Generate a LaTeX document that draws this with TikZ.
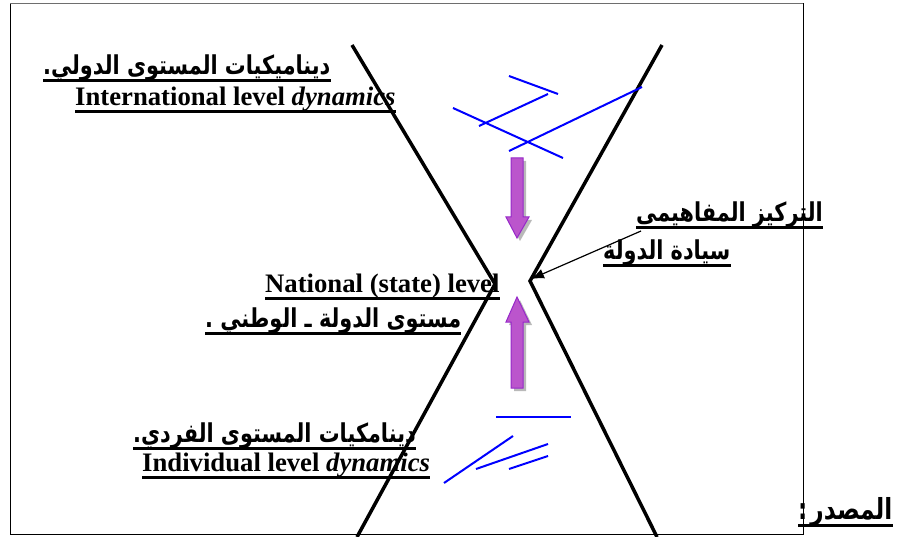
\documentclass[tikz,border=0pt]{standalone}
\usepackage{fontspec}
\setmainfont{Liberation Serif}
\newfontfamily\arabicfont[Script=Arabic, FakeStretch=0.8]{DejaVu Sans}
\TeXXeTstate=1
\usetikzlibrary{arrows.meta}

\definecolor{arrowfill}{RGB}{187,85,204}
\definecolor{arrowedge}{RGB}{150,40,200}
\definecolor{framegray}{RGB}{110,110,110}

\begin{document}
\begin{tikzpicture}[x=1pt,y=-1pt,
      Funnel/.style={line width=3.5pt},
      Scribble/.style={blue, line width=2pt},
      EnLabel/.style={inner sep=0pt, anchor=base west,
        font=\bfseries\fontsize{26.7}{28}\selectfont},
      ArLabel/.style={inner sep=0pt, anchor=base west,
        font=\arabicfont\bfseries\fontsize{26}{28}\selectfont},
      Uline/.style={line width=3pt},
      Thick/.style={fill=arrowfill, draw=arrowedge, line width=1pt},
      Shade/.style={fill=gray!55},
      ]
      \useasboundingbox (0,0) rectangle (909,537);
      \draw[line width=1pt] (10,534) -- (10,4) -- (803,4) -- (803,534) -- cycle;
      \draw[framegray, line width=1pt] (10,4) -- (803,4);

      % the two funnels
      \draw[Funnel] (352,45) -- (495,284) -- (357,537);
      \draw[Funnel] (662,45) -- (530,281) -- (657,537);

      % scribbles
      \draw[Scribble] (509,76) -- (558,94);
      \draw[Scribble] (548,94) -- (479,126);
      \draw[Scribble] (453,108) -- (563,158);
      \draw[Scribble] (509,151) -- (642,87);
      \draw[Scribble] (496,417) -- (571,417);
      \draw[Scribble] (513,436) -- (444,483);
      \draw[Scribble] (476,469) -- (548,444);
      \draw[Scribble] (509,469) -- (548,456);

      % thick arrows
      \fill[Shade] (514,161) -- (526,161) -- (526,220) -- (532,220) -- (520,241) -- (509,220) -- (514,220) -- cycle;
      \draw[Thick] (511,158) -- (523,158) -- (523,217) -- (529,217) -- (517,238) -- (506,217) -- (511,217) -- cycle;
      \fill[Shade] (520,300) -- (532,325) -- (526,325) -- (526,391) -- (514,391) -- (514,325) -- (509,325) -- cycle;
      \draw[Thick] (517,297) -- (529,322) -- (523,322) -- (523,388) -- (511,388) -- (511,322) -- (506,322) -- cycle;

      % labels
      \node[ArLabel] (intAr) at (43,75) {\beginR ديناميكيات المستوى الدولي.\endR};
      \node[EnLabel] (intEn) at (75,106) {International level \textit{dynamics}};
      \node[ArLabel] (focus) at (636,222) {\beginR التركيز المفاهيمى\endR};
      \node[ArLabel] (sovereign) at (603,259) {\beginR سيادة الدولة\endR};
      \node[EnLabel] (natEn) at (265,292) {National (state) level};
      \node[ArLabel] (natAr) at (205,327) {\beginR مستوى الدولة ـ الوطني .\endR};
      \node[ArLabel] (indAr) at (133,442) {\beginR دينامكيات المستوى الفردي.\endR};
      \node[EnLabel] (indEn) at (142,471) {Individual level \textit{dynamics}};
      \node[ArLabel, font=\arabicfont\bfseries\fontsize{29}{30}\selectfont] (source) at (798,519) {\beginR المصدر\kern3pt:\endR};

      \foreach \n in {intAr,focus,sovereign,natAr,indAr,source}
        \draw[Uline] ([yshift=-6pt]\n.base west) -- ([yshift=-6pt]\n.base east);
      \foreach \n in {intEn,natEn,indEn}
        \draw[Uline] ([yshift=-6pt]\n.base west) -- ([yshift=-6pt]\n.base east);

      % pointer to the narrow point
      \coordinate (apex) at (531,279);
      \coordinate (tail) at (641,231);
      \draw[-{Latex[length=13pt,width=10pt]}, line width=1.2pt] (tail) -- (apex);
\end{tikzpicture}
\end{document}
